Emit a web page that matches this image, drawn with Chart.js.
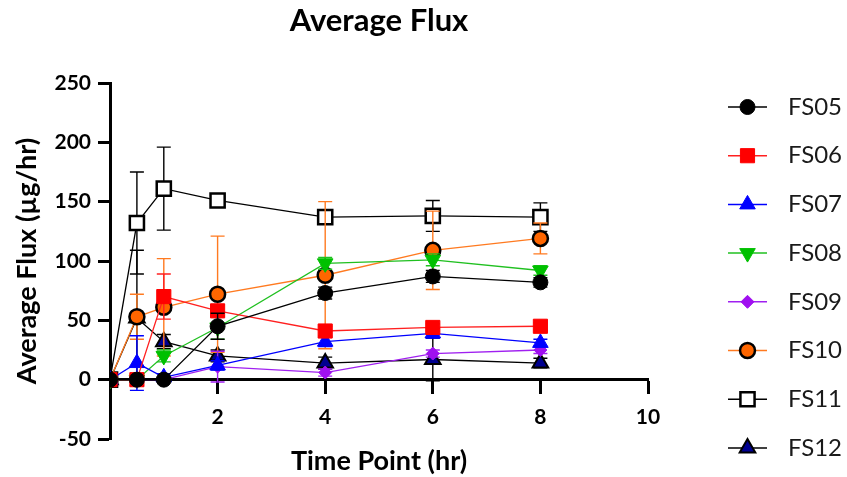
<!DOCTYPE html>
<html>
<head>
<meta charset="utf-8">
<script src="https://cdn.jsdelivr.net/npm/chart.js@4.4.0/dist/chart.umd.min.js"></script>
<style>
  html, body { margin: 0; padding: 0; background: #fff; }
  #wrap { width: 847px; height: 477px; }
</style>
</head>
<body>
<div id="wrap"><canvas id="fluxChart"></canvas></div>
<script>
const timePoints = [0, 0.5, 1, 2, 4, 6, 8];
const seriesNames = ['FS05', 'FS06', 'FS07', 'FS08', 'FS09', 'FS10', 'FS11', 'FS12'];

const fs05 = [0, 0, 0, 45, 73, 87, 82];
const fs06 = [0, 0, 70, 58, 41, 44, 45];
const fs07 = [0, 14, 2, 12, 32, 39, 31];
const fs08 = [0, 0, 20, 44, 98, 101, 92];
const fs09 = [0, 0, 0, 11, 6, 22, 25];
const fs10 = [0, 53, 61, 72, 88, 109, 119];
const fs11 = [0, 132, 161, 151, 137, 138, 137];
const fs12 = [0, 52, 32, 20, 14, 17, 14];

const fs05Err = [0, 0, 0, 11, 5, 5, 4];
const fs06Err = [0, 0, 19, 5, 4, 3, 3];
const fs07Err = [0, 23, 3, 4, 4, 4, 3];
const fs08Err = [0, 0, 5, 10, 5, 5, 4];
const fs09Err = [0, 0, 0, 13, 3, 3, 3];
const fs10Err = [0, 19, 41, 49, 62, 33, 13];
const fs11Err = [0, 43, 35, 3, 3, 13, 12];
const fs12Err = [0, 57, 6, 5, 5, 18, 4];

const xTicks = [0, 2, 4, 6, 8, 10];
const yTicks = [-50, 0, 50, 100, 150, 200, 250];

const seriesValues = [fs05, fs06, fs07, fs08, fs09, fs10, fs11, fs12];
const seriesErrors = [fs05Err, fs06Err, fs07Err, fs08Err, fs09Err, fs10Err, fs11Err, fs12Err];

// marker look per series
const looks = [
  { line: '#000000', fill: '#000000', edge: '#000000', style: 'circle', r: 7.5, bw: 1 },
  { line: '#ff2020', fill: '#ff0000', edge: '#ff0000', style: 'rect', r: 10, bw: 1 },
  { line: '#0000ff', fill: '#0000ff', edge: '#0000ff', style: 'triangle', r: 9, bw: 1 },
  { line: '#20c020', fill: '#00c000', edge: '#00c000', style: 'triangle', r: 9, bw: 1, rot: 180 },
  { line: '#a020f0', fill: '#a010f0', edge: '#a010f0', style: 'rectRot', r: 6.5, bw: 1 },
  { line: '#ff7a20', fill: '#ff6600', edge: '#000000', style: 'circle', r: 7.5, bw: 2.5 },
  { line: '#000000', fill: '#ffffff', edge: '#000000', style: 'rect', r: 10, bw: 2.5 },
  { line: '#000000', fill: '#000090', edge: '#000000', style: 'triangle', r: 9, bw: 2 }
];

const boldFont = (size) => ({ family: 'Lato', size: size, weight: 'bold' });

const errorBars = {
  id: 'errorBars',
  beforeDatasetDraw(chart, args) {
    const errs = seriesErrors[args.index];
    const ds = chart.data.datasets[args.index];
    const yScale = chart.scales.y;
    const ctx = chart.ctx;
    ctx.save();
    ctx.strokeStyle = ds.borderColor;
    ctx.lineWidth = 1.4;
    args.meta.data.forEach((pt, i) => {
      const e = errs[i];
      if (!e) return;
      const v = ds.data[i].y;
      const top = yScale.getPixelForValue(v + e);
      const bot = yScale.getPixelForValue(v - e);
      ctx.beginPath();
      ctx.moveTo(pt.x, top); ctx.lineTo(pt.x, bot);
      ctx.moveTo(pt.x - 7, top); ctx.lineTo(pt.x + 7, top);
      ctx.moveTo(pt.x - 7, bot); ctx.lineTo(pt.x + 7, bot);
      ctx.stroke();
    });
    ctx.restore();
  }
};

const sideLegend = {
  id: 'sideLegend',
  afterDraw(chart) {
    const { ctx, chartArea } = chart;
    chart.data.datasets.forEach((ds, i) => {
      const cy = chartArea.top + 24 + i * 48.7;
      const x0 = chartArea.right + 80;
      ctx.save();
      ctx.strokeStyle = ds.borderColor;
      ctx.lineWidth = 1.5;
      ctx.beginPath(); ctx.moveTo(x0, cy); ctx.lineTo(x0 + 39, cy); ctx.stroke();
      ctx.fillStyle = ds.pointBackgroundColor;
      ctx.strokeStyle = ds.pointBorderColor;
      ctx.lineWidth = ds.pointBorderWidth;
      Chart.helpers.drawPoint(ctx, {
        pointStyle: ds.pointStyle, rotation: ds.pointRotation, radius: ds.pointRadius, borderWidth: ds.pointBorderWidth
      }, x0 + 19.5, cy);
      ctx.fillStyle = '#1a1a1a';
      ctx.font = '24px Lato';
      ctx.textBaseline = 'middle';
      ctx.textAlign = 'left';
      ctx.fillText(ds.label, x0 + 60, cy);
      ctx.restore();
    });
  }
};

const datasets = seriesNames.map((name, k) => ({
  label: name,
  data: timePoints.map((t, i) => ({ x: t, y: seriesValues[k][i] })),
  xAxisID: 'x',
  yAxisID: 'y',
  borderColor: looks[k].line,
  borderWidth: 1.3,
  pointStyle: looks[k].style,
  pointRadius: looks[k].r,
  pointHoverRadius: looks[k].r,
  pointRotation: looks[k].rot || 0,
  pointBackgroundColor: looks[k].fill,
  pointBorderColor: looks[k].edge,
  pointBorderWidth: looks[k].bw,
  fill: false,
  tension: 0
}));

new Chart(document.querySelector('#fluxChart'), {
  type: 'line',
  data: { datasets },
  plugins: [errorBars, sideLegend],
  options: {
    responsive: true,
    maintainAspectRatio: false,
    animation: false,
    layout: { padding: { left: 4, right: 199, top: 0, bottom: 0 } },
    plugins: {
      legend: { display: false },
      tooltip: { enabled: false },
      title: {
        display: true,
        text: 'Average Flux',
        fullSize: false,
        color: '#000',
        font: boldFont(31),
        padding: { top: 2, bottom: 43.8 }
      }
    },
    scales: {
      x: {
        type: 'linear',
        min: 0,
        max: 10,
        position: { y: 0 },
        afterBuildTicks: (s) => { s.ticks = xTicks.map((v) => ({ value: v })); },
        ticks: {
          callback: (v) => (v === 0 ? '' : String(v)),
          color: '#000',
          font: boldFont(21),
          padding: 12,
          maxRotation: 0,
          autoSkip: false
        },
        grid: { drawOnChartArea: false, tickLength: 13, tickWidth: 3, color: '#000' },
        border: { color: '#000', width: 3 }
      },
      xTitle: {
        type: 'linear',
        position: 'bottom',
        min: 0,
        max: 10,
        ticks: { display: false },
        grid: { display: false, drawTicks: false },
        border: { display: false },
        title: {
          display: true,
          text: 'Time Point (hr)',
          color: '#000',
          font: boldFont(27),
          padding: { top: 5.6, bottom: 0 }
        }
      },
      y: {
        type: 'linear',
        min: -50,
        max: 250,
        afterBuildTicks: (s) => { s.ticks = yTicks.map((v) => ({ value: v })); },
        afterFit: (s) => { s.width = 106; },
        ticks: { color: '#000', font: boldFont(21), padding: 7 },
        grid: { drawOnChartArea: false, tickLength: 12, tickWidth: 3, color: '#000' },
        border: { color: '#000', width: 3 },
        title: {
          display: true,
          text: 'Average Flux (µg/hr)',
          color: '#000',
          font: boldFont(27),
          padding: { top: 7, bottom: 10 }
        }
      }
    }
  }
});
</script>
</body>
</html>
